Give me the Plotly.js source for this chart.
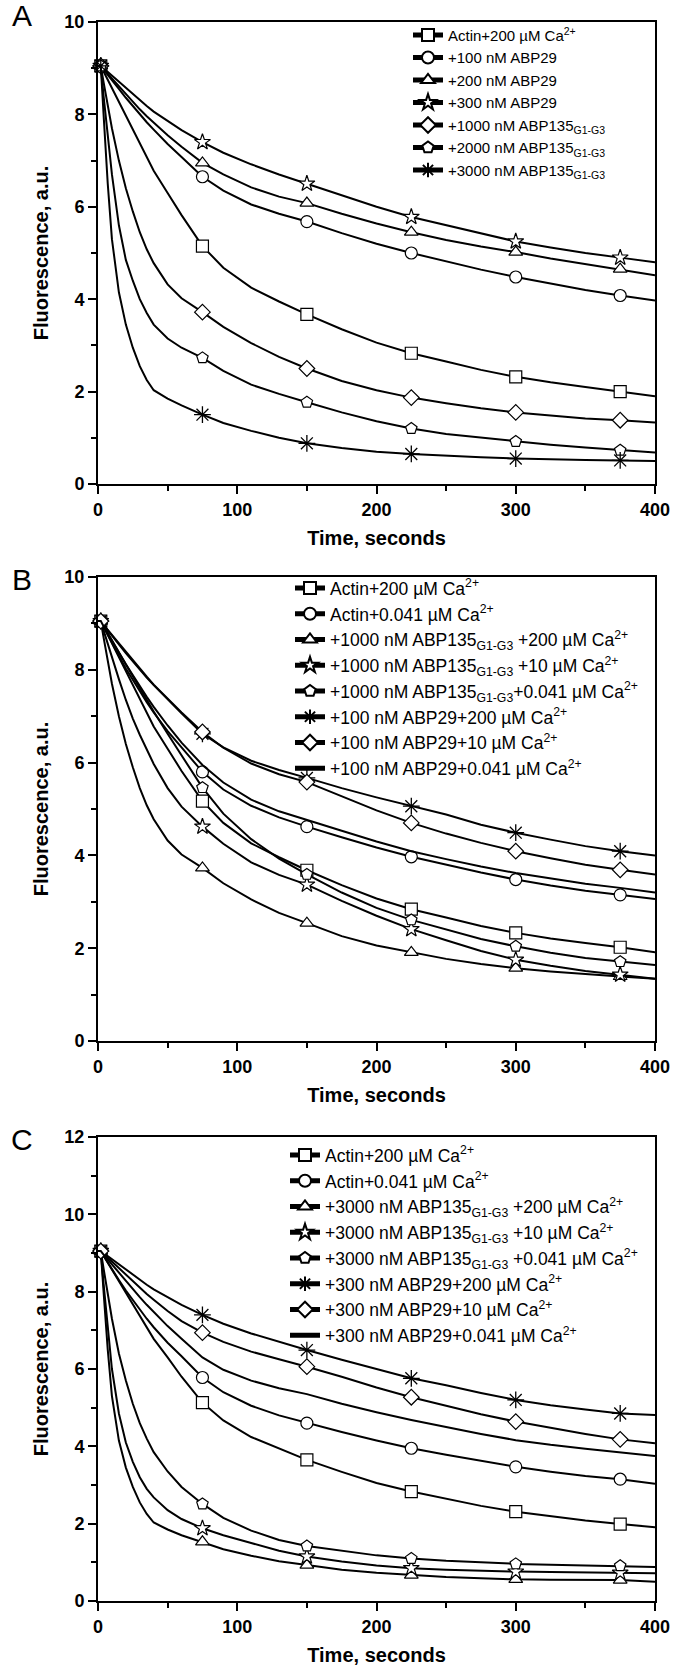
<!DOCTYPE html>
<html>
<head>
<meta charset="utf-8">
<script src="https://cdn.plot.ly/plotly-3.0.1.min.js"></script>
<style>html,body{margin:0;padding:0;background:#fff;}#chart{width:673px;height:1671px;}</style>
</head>
<body>
<div id="chart"></div>
<script>
// ---- time grid (seconds) and marker times ----
const TIME = [0, 2, 4, 7, 10, 15, 20, 25, 30, 35, 40, 50, 60, 75, 90, 110, 130, 150, 175, 200, 225, 250, 275, 300, 325, 350, 375, 400];
const MARK_T = [2, 75, 150, 225, 300, 375];

// ---- Panel A ----
const A_NAMES = ["Actin+200 µM Ca<sup>2+</sup>", "+100 nM ABP29", "+200 nM ABP29", "+300 nM ABP29",
  "+1000 nM ABP135<sub>G1-G3</sub>", "+2000 nM ABP135<sub>G1-G3</sub>", "+3000 nM ABP135<sub>G1-G3</sub>"];
const A_actin200 = [9.05, 9.05, 8.93, 8.75, 8.57, 8.28, 7.98, 7.67, 7.36, 7.06, 6.78, 6.3, 5.82, 5.15, 4.68, 4.25, 3.95, 3.67, 3.35, 3.06, 2.83, 2.65, 2.47, 2.32, 2.2, 2.1, 2.0, 1.9];
const A_abp29_100 = [9.05, 9.05, 8.97, 8.85, 8.74, 8.55, 8.36, 8.18, 8.0, 7.83, 7.67, 7.36, 7.08, 6.65, 6.35, 6.05, 5.85, 5.68, 5.43, 5.2, 5.0, 4.82, 4.64, 4.48, 4.34, 4.2, 4.08, 3.97];
const A_abp29_200 = [9.05, 9.05, 8.98, 8.88, 8.78, 8.6, 8.43, 8.27, 8.11, 7.96, 7.82, 7.55, 7.3, 6.95, 6.7, 6.42, 6.22, 6.08, 5.85, 5.64, 5.45, 5.28, 5.14, 5.02, 4.88, 4.76, 4.65, 4.52];
const A_abp29_300 = [9.05, 9.05, 9.0, 8.92, 8.84, 8.7, 8.56, 8.43, 8.3, 8.18, 8.06, 7.85, 7.66, 7.4, 7.17, 6.92, 6.7, 6.5, 6.25, 6.0, 5.78, 5.6, 5.42, 5.25, 5.12, 5.0, 4.9, 4.8];
const A_abp135_1000 = [9.05, 9.05, 8.7, 8.2, 7.7, 7.0, 6.4, 5.9, 5.45, 5.08, 4.78, 4.32, 4.02, 3.72, 3.4, 3.05, 2.75, 2.5, 2.23, 2.03, 1.87, 1.75, 1.64, 1.55, 1.48, 1.42, 1.38, 1.33];
const A_abp135_2000 = [9.05, 9.05, 8.4, 7.5, 6.7, 5.6, 4.85, 4.4, 4.0, 3.7, 3.45, 3.15, 2.95, 2.73, 2.45, 2.15, 1.95, 1.77, 1.55, 1.36, 1.2, 1.08, 1.0, 0.92, 0.85, 0.79, 0.73, 0.68];
const A_abp135_3000 = [9.05, 9.05, 8.0, 6.5, 5.3, 4.15, 3.45, 2.95, 2.55, 2.25, 2.03, 1.85, 1.7, 1.5, 1.32, 1.15, 1.0, 0.88, 0.78, 0.7, 0.65, 0.61, 0.58, 0.55, 0.53, 0.52, 0.51, 0.5];

// ---- Panel B ----
const B_NAMES = ["Actin+200 µM Ca<sup>2+</sup>", "Actin+0.041 µM Ca<sup>2+</sup>",
  "+1000 nM ABP135<sub>G1-G3</sub> +200 µM Ca<sup>2+</sup>", "+1000 nM ABP135<sub>G1-G3</sub> +10 µM Ca<sup>2+</sup>",
  "+1000 nM ABP135<sub>G1-G3</sub>+0.041 µM Ca<sup>2+</sup>", "+100 nM ABP29+200 µM Ca<sup>2+</sup>",
  "+100 nM ABP29+10 µM Ca<sup>2+</sup>", "+100 nM ABP29+0.041 µM Ca<sup>2+</sup>"];
const B_actin200 = [9.05, 9.05, 8.93, 8.75, 8.57, 8.28, 7.98, 7.67, 7.36, 7.06, 6.78, 6.3, 5.82, 5.17, 4.7, 4.26, 3.96, 3.68, 3.36, 3.07, 2.84, 2.66, 2.48, 2.33, 2.21, 2.11, 2.02, 1.91];
const B_actin0041 = [9.05, 9.05, 8.93, 8.75, 8.57, 8.3, 8.03, 7.78, 7.54, 7.3, 7.08, 6.68, 6.33, 5.8, 5.42, 5.07, 4.82, 4.62, 4.39, 4.17, 3.97, 3.8, 3.63, 3.48, 3.35, 3.24, 3.15, 3.06];
const B_abp135_200 = [9.05, 9.05, 8.7, 8.2, 7.7, 7.0, 6.4, 5.9, 5.45, 5.08, 4.78, 4.32, 4.02, 3.73, 3.4, 3.05, 2.76, 2.54, 2.26, 2.06, 1.91, 1.77, 1.66, 1.57, 1.5, 1.44, 1.39, 1.34];
const B_abp135_10 = [9.05, 9.05, 8.85, 8.55, 8.25, 7.8, 7.35, 6.95, 6.6, 6.27, 5.97, 5.45, 5.05, 4.62, 4.25, 3.85, 3.58, 3.37, 3.02, 2.7, 2.41, 2.17, 1.94, 1.75, 1.62, 1.51, 1.43, 1.34];
const B_abp135_0041 = [9.05, 9.05, 8.95, 8.8, 8.64, 8.38, 8.12, 7.86, 7.6, 7.35, 7.1, 6.62, 6.15, 5.46, 4.9, 4.35, 3.93, 3.59, 3.2, 2.87, 2.61, 2.4, 2.2, 2.04, 1.9, 1.79, 1.71, 1.64];
const B_abp29_200 = [9.05, 9.05, 8.97, 8.85, 8.74, 8.55, 8.36, 8.18, 8.0, 7.83, 7.67, 7.36, 7.06, 6.62, 6.33, 6.04, 5.84, 5.67, 5.45, 5.25, 5.06, 4.88, 4.66, 4.49, 4.34, 4.2, 4.09, 4.0];
const B_abp29_10 = [9.05, 9.05, 8.97, 8.86, 8.75, 8.56, 8.38, 8.2, 8.02, 7.85, 7.68, 7.37, 7.08, 6.66, 6.32, 5.98, 5.75, 5.58, 5.28, 4.97, 4.7, 4.47, 4.27, 4.09, 3.94, 3.8, 3.69, 3.59];
const B_abp29_0041 = [9.05, 9.05, 8.94, 8.78, 8.62, 8.37, 8.12, 7.88, 7.64, 7.42, 7.2, 6.8, 6.43, 5.95, 5.57, 5.2, 4.95, 4.77, 4.53, 4.3, 4.09, 3.92, 3.76, 3.62, 3.5, 3.39, 3.3, 3.2];

// ---- Panel C ----
const C_NAMES = ["Actin+200 µM Ca<sup>2+</sup>", "Actin+0.041 µM Ca<sup>2+</sup>",
  "+3000 nM ABP135<sub>G1-G3</sub> +200 µM Ca<sup>2+</sup>", "+3000 nM ABP135<sub>G1-G3</sub> +10 µM Ca<sup>2+</sup>",
  "+3000 nM ABP135<sub>G1-G3</sub> +0.041 µM Ca<sup>2+</sup>", "+300 nM ABP29+200 µM Ca<sup>2+</sup>",
  "+300 nM ABP29+10 µM Ca<sup>2+</sup>", "+300 nM ABP29+0.041 µM Ca<sup>2+</sup>"];
const C_actin200 = [9.05, 9.05, 8.93, 8.75, 8.57, 8.28, 7.98, 7.67, 7.36, 7.06, 6.78, 6.3, 5.8, 5.13, 4.67, 4.24, 3.94, 3.65, 3.34, 3.05, 2.83, 2.64, 2.46, 2.31, 2.19, 2.08, 1.99, 1.91];
const C_actin0041 = [9.05, 9.05, 8.93, 8.75, 8.57, 8.3, 8.03, 7.78, 7.54, 7.3, 7.08, 6.68, 6.33, 5.78, 5.4, 5.05, 4.8, 4.6, 4.37, 4.15, 3.95, 3.78, 3.62, 3.47, 3.34, 3.23, 3.15, 3.03];
const C_abp135_200 = [9.05, 9.05, 8.0, 6.5, 5.3, 4.15, 3.45, 2.95, 2.55, 2.25, 2.03, 1.85, 1.7, 1.53, 1.34, 1.17, 1.03, 0.93, 0.81, 0.73, 0.67, 0.62, 0.59, 0.56, 0.55, 0.54, 0.54, 0.5];
const C_abp135_10 = [9.05, 9.05, 8.2, 7.0, 6.0, 4.85, 4.1, 3.6, 3.2, 2.9, 2.68, 2.35, 2.12, 1.88, 1.7, 1.5, 1.3, 1.15, 1.02, 0.92, 0.85, 0.81, 0.78, 0.76, 0.75, 0.74, 0.73, 0.72];
const C_abp135_0041 = [9.05, 9.05, 8.6, 7.9, 7.3, 6.4, 5.7, 5.1, 4.6, 4.2, 3.85, 3.35, 2.95, 2.51, 2.15, 1.82, 1.58, 1.42, 1.3, 1.18, 1.1, 1.04, 1.0, 0.96, 0.94, 0.92, 0.91, 0.88];
const C_abp29_200 = [9.05, 9.05, 9.0, 8.92, 8.84, 8.7, 8.56, 8.43, 8.3, 8.18, 8.06, 7.85, 7.66, 7.4, 7.17, 6.92, 6.7, 6.49, 6.24, 6.0, 5.76, 5.58, 5.38, 5.2, 5.06, 4.95, 4.85, 4.81];
const C_abp29_10 = [9.05, 9.05, 8.98, 8.88, 8.78, 8.6, 8.43, 8.26, 8.1, 7.94, 7.79, 7.5, 7.24, 6.94, 6.7, 6.45, 6.25, 6.06, 5.8, 5.52, 5.27, 5.05, 4.83, 4.64, 4.48, 4.32, 4.18, 4.08];
const C_abp29_0041 = [9.05, 9.05, 8.96, 8.83, 8.7, 8.48, 8.27, 8.06, 7.86, 7.66, 7.47, 7.11, 6.78, 6.3, 5.98, 5.7, 5.5, 5.35, 5.1, 4.88, 4.68, 4.5, 4.32, 4.16, 4.04, 3.94, 3.85, 3.75];

// ---- helpers ----
const MARK_IDX = MARK_T.map(t => TIME.indexOf(t));

function trace(y, name, symbol, xa, ya, leg) {
  const t = {
    x: TIME, y: y, name: name, type: 'scatter', xaxis: xa, yaxis: ya, legend: leg,
    mode: symbol ? 'lines+markers' : 'lines',
    line: {color: '#000', width: 2},
    cliponaxis: false
  };
  if (symbol) {
    const isAst = symbol.indexOf('asterisk') === 0;
    t.marker = {symbol: symbol, size: isAst ? 14 : 12, color: isAst ? '#000' : '#fff',
      line: {color: '#000', width: isAst ? 1.3 : 1.2}};
    t.selectedpoints = MARK_IDX;
    t.selected = {marker: {opacity: 1}};
    t.unselected = {marker: {opacity: 0}};
  }
  return t;
}

const data = [
  trace(A_actin200, A_NAMES[0], 'square', 'x', 'y', 'legend'),
  trace(A_abp29_100, A_NAMES[1], 'circle', 'x', 'y', 'legend'),
  trace(A_abp29_200, A_NAMES[2], 'triangle-up', 'x', 'y', 'legend'),
  trace(A_abp29_300, A_NAMES[3], 'star', 'x', 'y', 'legend'),
  trace(A_abp135_1000, A_NAMES[4], 'diamond', 'x', 'y', 'legend'),
  trace(A_abp135_2000, A_NAMES[5], 'pentagon', 'x', 'y', 'legend'),
  trace(A_abp135_3000, A_NAMES[6], 'asterisk-open', 'x', 'y', 'legend'),

  trace(B_actin200, B_NAMES[0], 'square', 'x2', 'y2', 'legend2'),
  trace(B_actin0041, B_NAMES[1], 'circle', 'x2', 'y2', 'legend2'),
  trace(B_abp135_200, B_NAMES[2], 'triangle-up', 'x2', 'y2', 'legend2'),
  trace(B_abp135_10, B_NAMES[3], 'star', 'x2', 'y2', 'legend2'),
  trace(B_abp135_0041, B_NAMES[4], 'pentagon', 'x2', 'y2', 'legend2'),
  trace(B_abp29_200, B_NAMES[5], 'asterisk-open', 'x2', 'y2', 'legend2'),
  trace(B_abp29_10, B_NAMES[6], 'diamond', 'x2', 'y2', 'legend2'),
  trace(B_abp29_0041, B_NAMES[7], null, 'x2', 'y2', 'legend2'),

  trace(C_actin200, C_NAMES[0], 'square', 'x3', 'y3', 'legend3'),
  trace(C_actin0041, C_NAMES[1], 'circle', 'x3', 'y3', 'legend3'),
  trace(C_abp135_200, C_NAMES[2], 'triangle-up', 'x3', 'y3', 'legend3'),
  trace(C_abp135_10, C_NAMES[3], 'star', 'x3', 'y3', 'legend3'),
  trace(C_abp135_0041, C_NAMES[4], 'pentagon', 'x3', 'y3', 'legend3'),
  trace(C_abp29_200, C_NAMES[5], 'asterisk-open', 'x3', 'y3', 'legend3'),
  trace(C_abp29_10, C_NAMES[6], 'diamond', 'x3', 'y3', 'legend3'),
  trace(C_abp29_0041, C_NAMES[7], null, 'x3', 'y3', 'legend3')
];

const W = 673, H = 1671;
const px = v => v / W;
const py = v => 1 - v / H;
const FONT = 'Liberation Sans, Arial, sans-serif';

function xax(anchor) {
  return {
    domain: [px(98), px(655)], anchor: anchor, range: [0, 400], tick0: 0, dtick: 100,
    ticks: 'outside', ticklen: 8, tickwidth: 2, tickcolor: '#000',
    minor: {ticks: 'outside', dtick: 50, ticklen: 5, tickwidth: 2, tickcolor: '#000', showgrid: false},
    showline: true, linewidth: 2, linecolor: '#000', mirror: true,
    showgrid: false, zeroline: false,
    tickfont: {family: FONT, size: 18, weight: 'bold', color: '#000'},
    title: {text: 'Time, seconds', font: {family: FONT, size: 20, weight: 'bold', color: '#000'}, standoff: 12},
    fixedrange: true
  };
}
function yax(anchor, top, bottom, ymax) {
  return {
    domain: [py(bottom), py(top)], anchor: anchor, range: [0, ymax], tick0: 0, dtick: 2,
    ticks: 'outside', ticklen: 8, tickwidth: 2, tickcolor: '#000',
    minor: {ticks: 'outside', dtick: 1, ticklen: 5, tickwidth: 2, tickcolor: '#000', showgrid: false},
    showline: true, linewidth: 2, linecolor: '#000', mirror: true,
    showgrid: false, zeroline: false,
    tickfont: {family: FONT, size: 18, weight: 'bold', color: '#000'},
    title: {text: 'Fluorescence, a.u.', font: {family: FONT, size: 20, weight: 'bold', color: '#000'}, standoff: 10},
    fixedrange: true
  };
}
function leg(xpx, ypx, size) {
  return {x: px(xpx), y: py(ypx), xanchor: 'left', yanchor: 'top', bgcolor: 'rgba(0,0,0,0)',
    borderwidth: 0, font: {family: FONT, size: size, color: '#000'}, itemwidth: 30,
    itemsizing: 'constant', tracegroupgap: 0};
}
function letter(txt, xpx, ypx) {
  return {text: txt, x: px(xpx), y: py(ypx), xref: 'paper', yref: 'paper', showarrow: false,
    xanchor: 'center', yanchor: 'middle', font: {family: FONT, size: 30, color: '#000'}};
}

const layout = {
  width: W, height: H, margin: {l: 0, r: 0, t: 0, b: 0},
  paper_bgcolor: '#fff', plot_bgcolor: '#fff',
  font: {family: FONT, color: '#000'},
  showlegend: true,
  xaxis: xax('y'), yaxis: yax('x', 22, 484, 10),
  xaxis2: xax('y2'), yaxis2: yax('x2', 577, 1041, 10),
  xaxis3: xax('y3'), yaxis3: yax('x3', 1137, 1601, 12),
  legend: leg(405, 24, 15),
  legend2: leg(290, 576, 17.5),
  legend3: leg(285, 1143, 17.5),
  annotations: [letter('A', 22, 15), letter('B', 22, 579), letter('C', 22, 1139)]
};

// target pixel positions (from the reference) of the first legend entry: text left edge, symbol line centre
const LEG_TARGET = {legend: {tx: 448, ly: 35}, legend2: {tx: 330, ly: 588}, legend3: {tx: 324, ly: 1155}};

Plotly.newPlot('chart', data, layout, {staticPlot: true}).then(gd => {
  const root = gd.getBoundingClientRect();
  const upd = {};
  Object.keys(LEG_TARGET).forEach(id => {
    const g = gd.querySelector('g.' + id);
    if (!g) return;
    const txt = g.querySelector('text.legendtext');
    const line = g.querySelector('path.js-line');
    if (txt) {
      const dx = LEG_TARGET[id].tx - (txt.getBoundingClientRect().left - root.left);
      if (Math.abs(dx) > 0.5 && Math.abs(dx) < 80) upd[id + '.x'] = layout[id].x + dx / W;
    }
    if (line) {
      const r = line.getBoundingClientRect();
      const dy = LEG_TARGET[id].ly - ((r.top + r.bottom) / 2 - root.top);
      if (Math.abs(dy) > 0.5 && Math.abs(dy) < 80) upd[id + '.y'] = layout[id].y - dy / H;
    }
  });
  if (Object.keys(upd).length) return Plotly.relayout(gd, upd);
});
</script>
</body>
</html>
